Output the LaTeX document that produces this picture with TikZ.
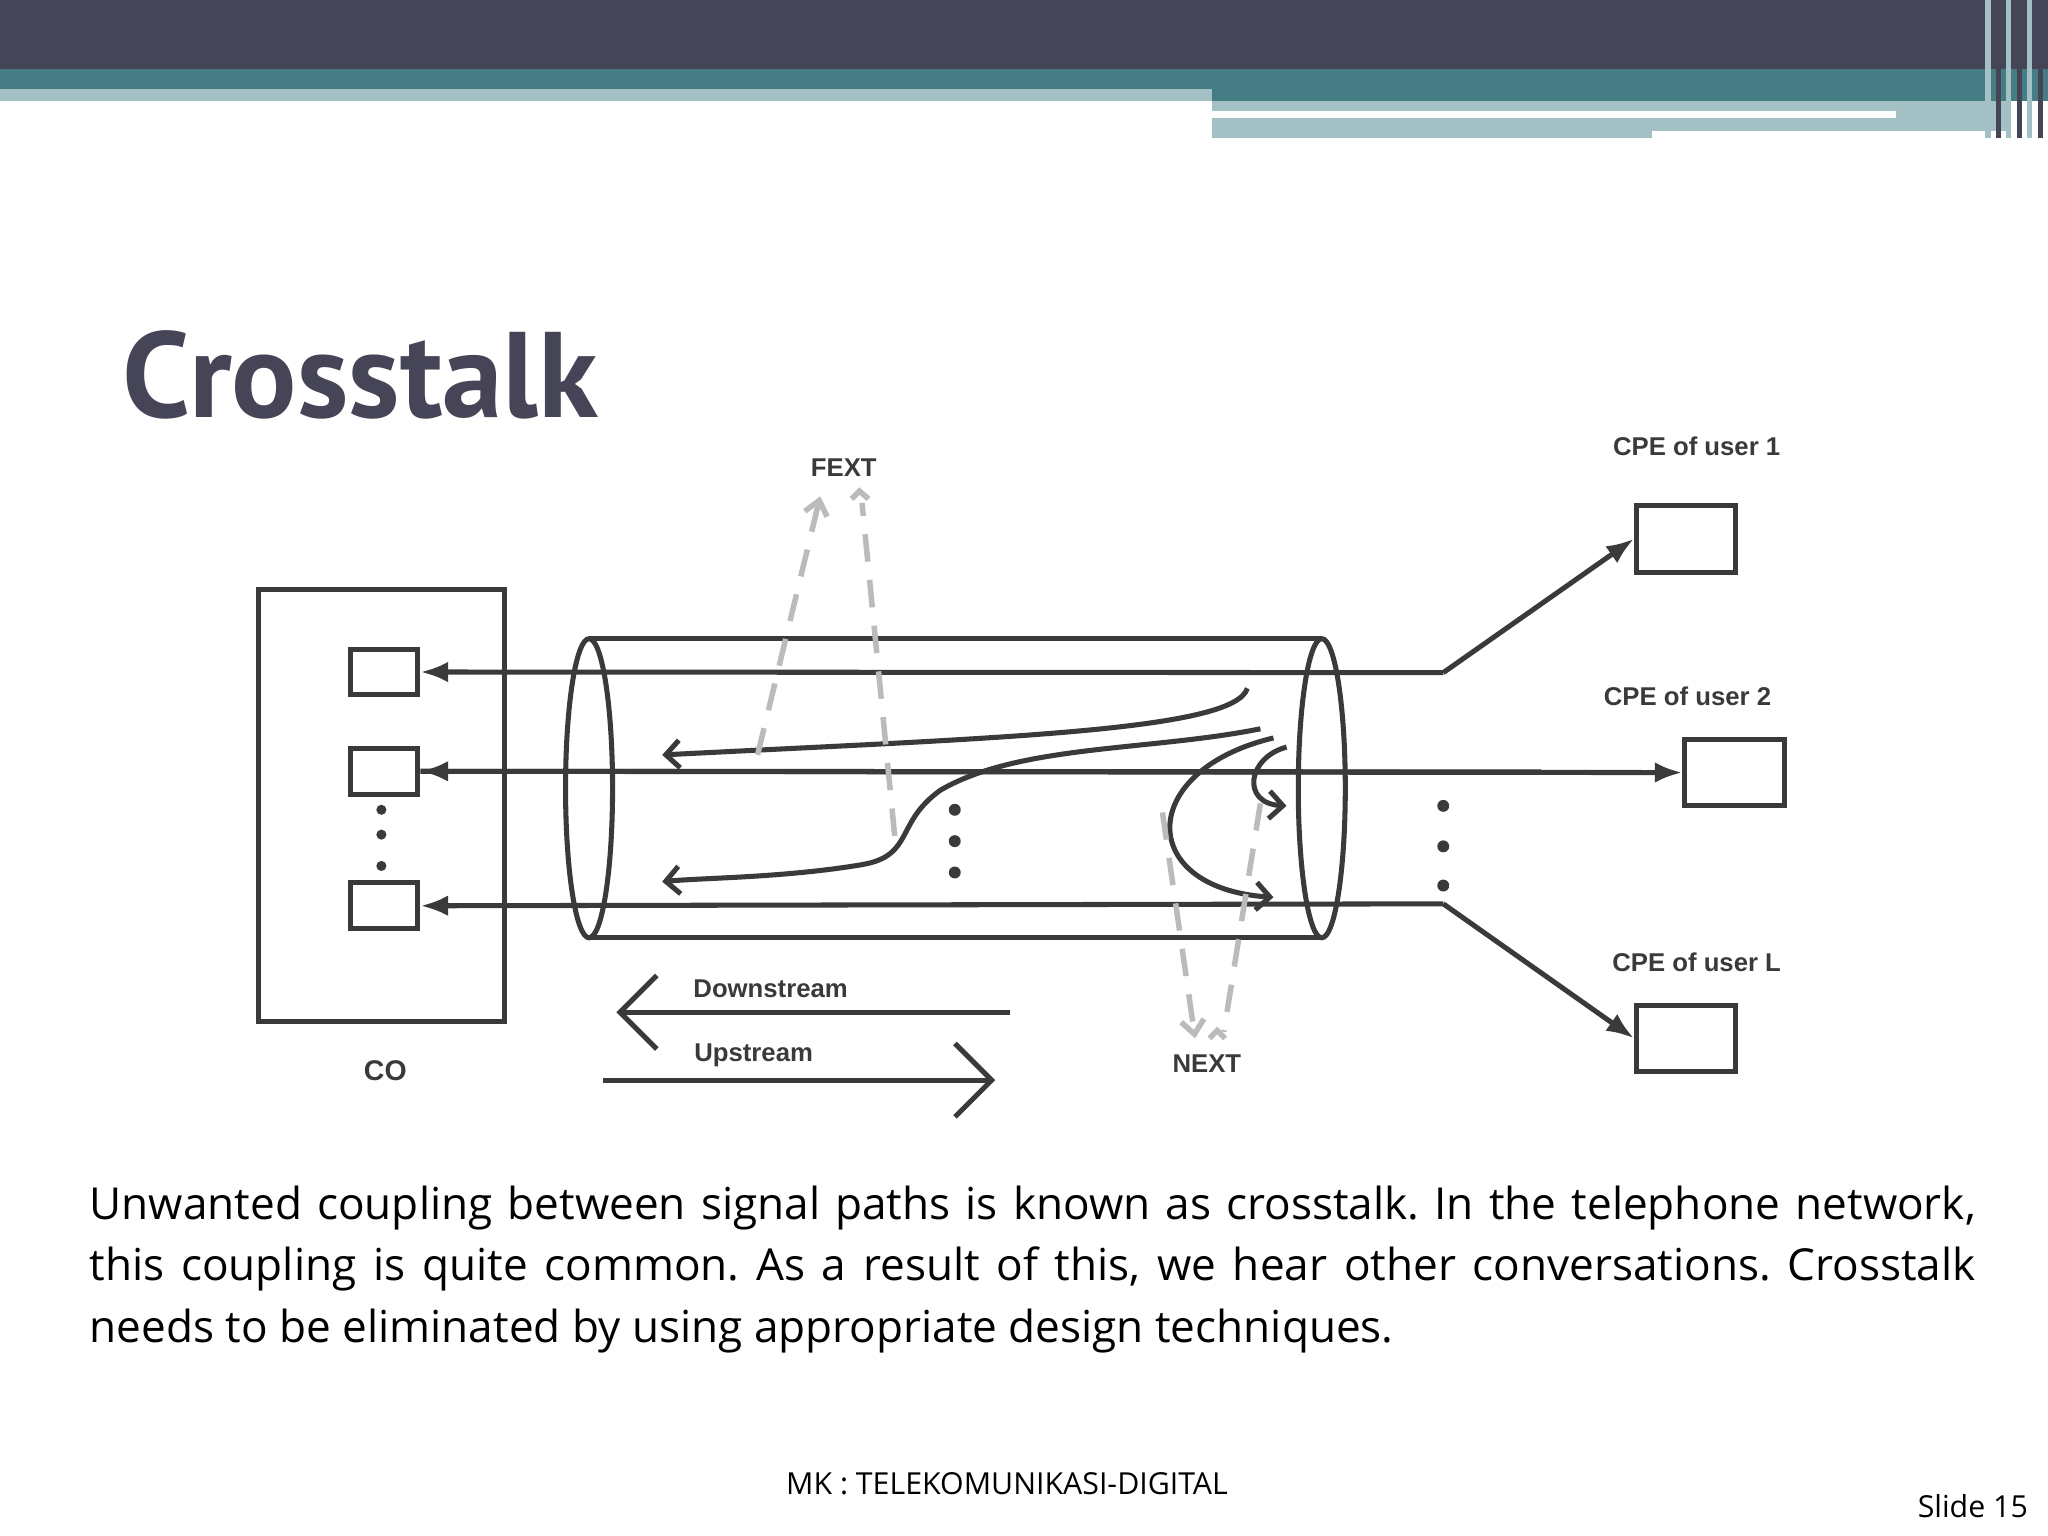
\documentclass[tikz,border=0pt]{standalone}
\usepackage{fontspec}
\setmainfont{Open Sans}
\newfontfamily\titlefont{PT Sans}
\newfontfamily\labfont{Liberation Sans}
\usetikzlibrary{arrows.meta}
\definecolor{dbar}{HTML}{464457}
\definecolor{teal}{HTML}{467C83}
\definecolor{lteal}{HTML}{A3C0C5}
\definecolor{ink}{HTML}{3A3A3A}
\definecolor{dgrey}{HTML}{BBBBBB}
\tikzset{
  ln/.style={draw=ink,line width=1.1pt},
  box/.style={draw=ink,line width=1.1pt,minimum width=52*0.01cm,minimum height=35*0.01cm,inner sep=0},
  cpe/.style={draw=ink,line width=1.1pt,minimum width=76*0.01cm,minimum height=51*0.01cm,inner sep=0},
  lab/.style={font=\labfont\bfseries\fontsize{5.6}{6}\selectfont,text=ink},
  tip/.style={-{Latex[length=6pt,width=4.5pt]}},
  otip/.style={-{Straight Barb[length=3pt,width=6pt]}},
  dsh/.style={draw=dgrey,line width=1.2pt,dash pattern=on 6pt off 4pt},
  dot/.style={circle,fill=ink,inner sep=0,minimum size=2.2pt},
}
\begin{document}
\begin{tikzpicture}[x=0.01cm,y=-0.01cm]
\useasboundingbox (0,0) rectangle (1568,1176);
% header
\fill[dbar] (0,0) rectangle (1568,53);
\fill[teal] (0,53) rectangle (1568,68);
\fill[teal] (928,68) rectangle (1568,77);
\fill[lteal] (0,68) rectangle (928,77);
\fill[lteal] (928,77) rectangle (1540,106);
\fill[white] (928,85) rectangle (1452,90);
\fill[white] (1265,100) rectangle (1540,106);
\foreach \x/\c in {1520/lteal,1528/dbar,1536/lteal,1544/dbar,1552/lteal,1560/dbar}
  \fill[\c] (\x,0) rectangle (\x+4,106);
% title
\node[anchor=base west,inner sep=0,font=\titlefont\bfseries\fontsize{26.5}{30}\selectfont,text=dbar] (title) at (93,320) {Crosstalk};
% CO
\node[draw=ink,line width=1.1pt,minimum width=188*0.01cm,minimum height=331*0.01cm,inner sep=0] (co) at (292,616.5) {};
\node[lab,font=\labfont\bfseries\fontsize{6.2}{7}\selectfont] (colab) at (295,820) {CO};
\node[box] (b1) at (294,514.5) {};
\node[box] (b2) at (294,590.5) {};
\node[box] (b3) at (294,693.5) {};
\foreach \y in {620,639,663} \node[dot] at (292,\y) {};
% cylinder
\draw[ln] (451,489) -- (1012,489) (451,718) -- (1012,718);
\draw[ln] (451,603.5) ellipse (18 and 114.5);
\draw[ln] (1012,603.5) ellipse (18 and 114.5);
% CPEs
\node[cpe] (c1) at (1291,412.5) {};
\node[cpe] (c2) at (1328,591.5) {};
\node[cpe] (cL) at (1291,795) {};
\node[lab] (l1) at (1299,342) {CPE of user 1};
\node[lab] (l2) at (1292,533) {CPE of user 2};
\node[lab] (lL) at (1299,737) {CPE of user L};
\coordinate (j1) at (1105,515);
\coordinate (jL) at (1105,692);
% lines
\draw[ln,tip] (j1) -- (b1.east);
\draw[ln,tip] (j1) -- (c1.west);
\draw[ln,tip] (1180,591) -- (b2.east);
\draw[ln,tip] (b2.east) -- (c2.west);
\draw[ln,tip] (jL) -- (b3.east);
\draw[ln,tip] (jL) -- (cL.west);
\foreach \y in {617,648,678} \node[dot,minimum size=2.6pt] at (1105,\y) {};
\foreach \y in {620,644,668} \node[dot,minimum size=2.6pt] at (731,\y) {};
% crosstalk curves
\draw[ln,otip] (955,527) .. controls (945,560) and (760,565) .. (507,578);
\draw[ln,otip] (965,558) .. controls (880,575) and (780,570) .. (720,605) .. controls (685,630) and (700,655) .. (660,662) .. controls (600,672) and (540,672) .. (507,675);
\draw[ln,otip] (975,565) .. controls (870,590) and (870,680) .. (975,687);
\draw[ln,otip] (985,572) .. controls (955,580) and (950,615) .. (985,617);
% dashed
\draw[dsh,-{Straight Barb[length=3pt,width=5pt]}] (580,578) -- (628,380);
\draw[dsh] (685,640) -- (660,385);
\draw[dgrey,line width=1.2pt] (652,382) -- (658,376) -- (665,382);
\draw[dsh,-{Straight Barb[length=3pt,width=5pt]}] (890,622) -- (915,795);
\draw[dsh] (965,615) -- (937,790);
\draw[dgrey,line width=1.2pt] (926,795) -- (932,789) -- (938,795);
\node[lab] (fext) at (646,358) {FEXT};
\node[lab] (next) at (924,814) {NEXT};
% legend
\coordinate (ds) at (773,775); \coordinate (de) at (472,775);
\coordinate (us) at (462,827); \coordinate (ue) at (762,827);
\draw[ln,-{Straight Barb[length=8pt,width=16pt]}] (ds) -- (de);
\draw[ln,-{Straight Barb[length=8pt,width=16pt]}] (us) -- (ue);
\node[lab] (dl) at (590,757) {Downstream};
\node[lab] (ul) at (577,808) {Upstream};
% paragraph
\node[anchor=north west,inner sep=0,text width=1444*0.01cm,align=justify,font=\fontsize{9.6}{13.4}\selectfont\frenchspacing,text=black] (para) at (68,907)
{Unwanted coupling between signal paths is known as crosstalk. In the telephone network,\linebreak this coupling is quite common. As a result of this, we hear other conversations. Crosstalk\linebreak needs to be eliminated by using appropriate design techniques.};
\node[font=\fontsize{6.6}{8}\selectfont,text=black] (foot) at (771,1136) {MK : TELEKOMUNIKASI-DIGITAL};
\node[anchor=east,font=\fontsize{6.6}{8}\selectfont,text=black] (slide) at (1565,1153) {Slide 15};
\end{tikzpicture}
\end{document}
